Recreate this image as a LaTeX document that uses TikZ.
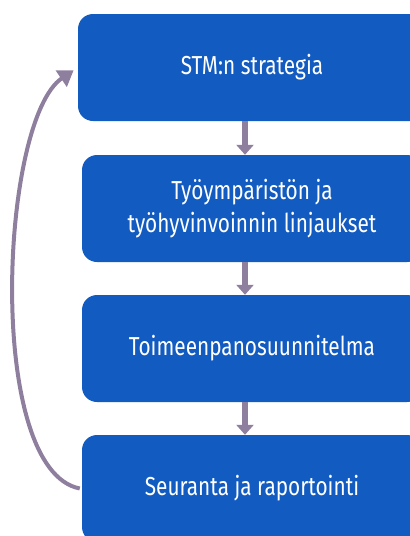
\documentclass[tikz,border=0pt]{standalone}
\usepackage{fontspec}
\setmainfont[FakeStretch=0.8]{Fira Sans}
\usetikzlibrary{arrows.meta}
\definecolor{boxblue}{HTML}{125BC0}
\definecolor{arrowpurple}{HTML}{8F7F9F}
\begin{document}
\begin{tikzpicture}[x=1pt,y=-1pt,
  stepbox/.style={fill=boxblue, rounded corners=15pt, minimum height=107pt,
    text=white, align=center, font=\fontsize{26}{33}\selectfont, inner sep=0pt},
  down/.style={draw=arrowpurple, line width=6pt,
    -{Triangle[width=17pt,length=10pt]}},
  loopback/.style={draw=arrowpurple, line width=4pt,
    -{Triangle[width=19pt,length=15pt]}}]
\useasboundingbox (0,0) rectangle (410,536);
\clip (0,0) rectangle (410,536);
\node[stepbox, minimum width=348pt] (b1) at (252,67.5) {STM:n strategia};
\node[stepbox, minimum width=340pt] (b2) at (252,208.5) {Työympäristön ja\\työhyvinvoinnin linjaukset};
\node[stepbox, minimum width=340pt] (b3) at (252,348.5) {Toimeenpanosuunnitelma};
\node[stepbox, minimum width=340pt] (b4) at (252,488.5) {Seuranta ja raportointi};
\draw[down] ([xshift=-7pt]b1.south) -- ([xshift=-7pt]b2.north);
\draw[down] ([xshift=-7pt]b2.south) -- ([xshift=-7pt]b3.north);
\draw[down] ([xshift=-7pt]b3.south) -- ([xshift=-7pt]b4.north);
\draw[loopback, shorten >=5pt] ([xshift=-2pt]b4.west) .. controls (-15,470) and (0,120) .. (b1.west);
\end{tikzpicture}
\end{document}
